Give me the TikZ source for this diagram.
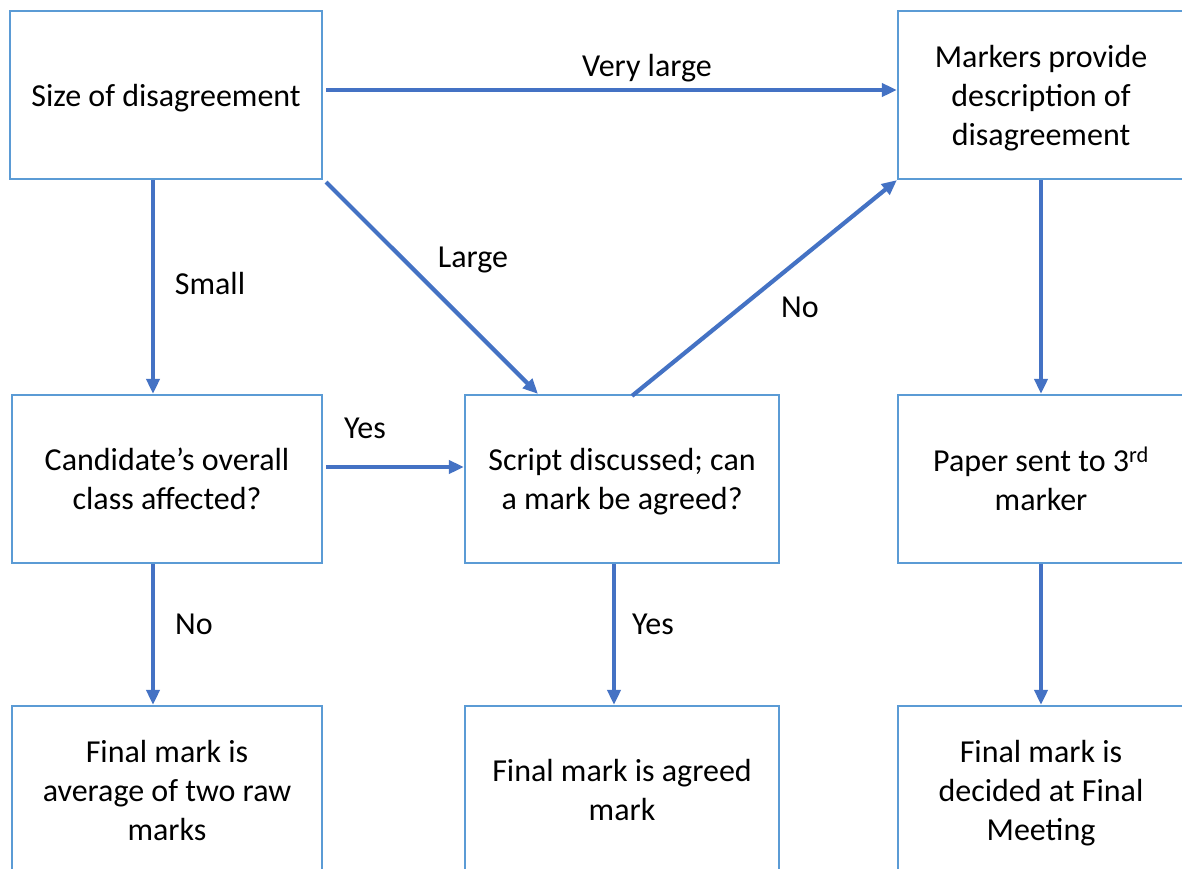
\documentclass[tikz,border=0pt]{standalone}
\usepackage{fontspec}
\setmainfont{Carlito}
\usetikzlibrary{arrows.meta}
\definecolor{boxblue}{HTML}{5B9BD5}
\definecolor{arrblue}{HTML}{4472C4}
\newcommand{\nodepth}[1]{\raisebox{0pt}[\height][0pt]{#1}}
\begin{document}
\begin{tikzpicture}[x=1pt,y=-1pt,
  flowbox/.style={draw=boxblue, line width=2.2pt, minimum height=168pt, align=center, inner sep=0pt, text=black, font=\fontsize{32}{39}\selectfont},
  conn/.style={draw=arrblue, line width=4.2pt, -{Triangle[length=15pt,width=13pt]}},
  lbl/.style={text=black, inner sep=0pt, font=\fontsize{32}{39}\selectfont}]
\useasboundingbox (0,0) rectangle (1182,868);
\clip (0,0) rectangle (1182,868);
\fill[white] (0,0) rectangle (1182,868);
\node[flowbox, minimum width=312pt] (A) at (166,95) {\nodepth{Size of disagreement}};
\node[flowbox, minimum width=286pt] (B) at (1041,95) {Markers provide\\description of\\\nodepth{disagreement}};
\node[flowbox, minimum width=310pt] (C) at (167,479) {Candidate’s overall\\class affected?};
\node[flowbox, minimum width=314pt] (D) at (622,479) {Script discussed; can\\\nodepth{a mark be agreed?}};
\node[flowbox, minimum width=286pt] (E) at (1041,479) {Paper sent to 3\textsuperscript{rd}\\marker};
\node[flowbox, minimum width=310pt] (F) at (167,790) {Final mark is\\average of two raw\\marks};
\node[flowbox, minimum width=314pt] (G) at (622,790) {Final mark is agreed\\mark};
\node[flowbox, minimum width=286pt] (H) at (1041,790) {Final mark is\\decided at Final\\\nodepth{Meeting}};
\draw[conn] ([shift={(3,-5)}]A.east) -- ([shift={(0,-5)}]B.west);
\draw[conn] ([xshift=-13]A.south) -- ([xshift=-14]C.north);
\draw[conn] ([shift={(3,2)}]A.south east) -- ([xshift=-84]D.north);
\draw[conn] ([shift={(10,2)}]D.north) -- (B.south west);
\draw[conn] (B.south) -- (E.north);
\draw[conn] ([shift={(3,-12)}]C.east) -- ([shift={(0,-12)}]D.west);
\draw[conn] ([xshift=-14]C.south) -- ([xshift=-14]F.north);
\draw[conn] ([xshift=-8]D.south) -- ([xshift=-8]G.north);
\draw[conn] (E.south) -- (H.north);
\node[lbl] (l1) at (647,68) {Very large};
\node[lbl] (l2) at (210,283) {Small};
\node[lbl] (l3) at (473,260) {Large};
\node[lbl] (l4) at (800,307) {No};
\node[lbl] (l5) at (365,428) {Yes};
\node[lbl] (l6) at (194,624) {No};
\node[lbl] (l7) at (653,624) {Yes};
\end{tikzpicture}
\end{document}
